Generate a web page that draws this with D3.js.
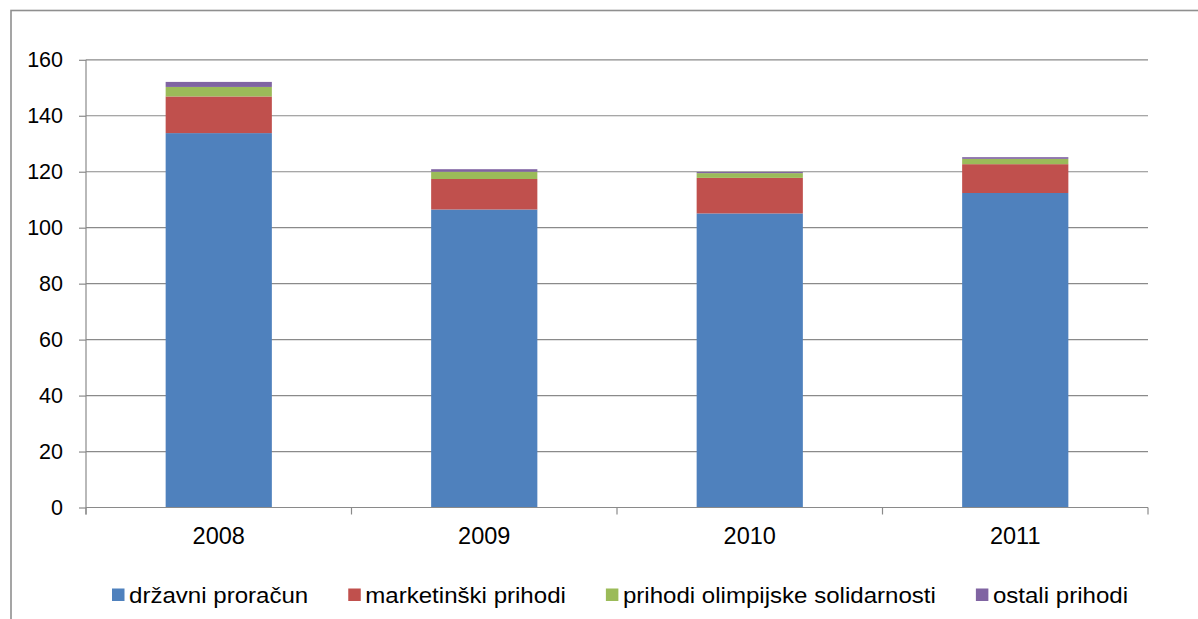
<!DOCTYPE html>
<html>
<head>
<meta charset="utf-8">
<script src="https://cdn.jsdelivr.net/npm/d3@7"></script>
<style>
  body { margin: 0; background: #fff; }
  svg { display: block; font-family: Arial, "Liberation Sans", sans-serif; }
</style>
</head>
<body>
<svg id="chart" width="1198" height="619"></svg>
<script>
// data (mil. kn)
const years = ["2008", "2009", "2010", "2011"];
const seriesNames = ["državni proračun", "marketinški prihodi", "prihodi olimpijske solidarnosti", "ostali prihodi"];
const drzavniProracun = [133.8, 106.5, 105.1, 112.4];
const marketinskiPrihodi = [13.1, 10.9, 12.7, 10.3];
const olimpijskaSolidarnost = [3.4, 2.6, 1.7, 1.9];
const ostaliPrihodi = [1.8, 0.9, 0.4, 0.6];
const yTicks = [0, 20, 40, 60, 80, 100, 120, 140, 160];
const colors = ["#4f81bd", "#c0504d", "#9bbb59", "#8064a2"];

const GRID = "#8a8a8a";
const svg = d3.select("#chart");

// outer chart frame (right and bottom fall outside the picture)
svg.append("rect")
    .attr("x", 11).attr("y", 10.5)
    .attr("width", 1220).attr("height", 640)
    .attr("fill", "none")
    .attr("stroke", "#8f8f8f")
    .attr("stroke-width", 1.6);

const plot = { left: 86, right: 1148, top: 59.8, bottom: 507.5 };

const table = years.map((y, i) => ({
    year: y,
    s0: drzavniProracun[i],
    s1: marketinskiPrihodi[i],
    s2: olimpijskaSolidarnost[i],
    s3: ostaliPrihodi[i]
}));
const stacked = d3.stack().keys(["s0", "s1", "s2", "s3"])(table);

const x = d3.scaleBand()
    .domain(years)
    .range([plot.left, plot.right])
    .paddingInner(0.6)
    .paddingOuter(0.3);

const y = d3.scaleLinear()
    .domain([0, 160])
    .range([plot.bottom, plot.top]);

// gridlines
svg.append("g")
    .selectAll("line")
    .data(yTicks.filter(t => t > 0))
    .enter()
    .append("line")
    .attr("x1", plot.left).attr("x2", plot.right)
    .attr("y1", d => y(d)).attr("y2", d => y(d))
    .attr("stroke", GRID)
    .attr("stroke-width", 1.2);

// bars
svg.append("g")
    .selectAll("g")
    .data(stacked)
    .enter()
    .append("g")
    .attr("fill", (d, i) => colors[i])
    .selectAll("rect")
    .data(d => d)
    .enter()
    .append("rect")
    .attr("x", d => x(d.data.year))
    .attr("width", x.bandwidth())
    .attr("y", d => y(d[1]))
    .attr("height", d => y(d[0]) - y(d[1]));

// y axis
const yAxis = svg.append("g")
    .attr("transform", `translate(${plot.left},0)`)
    .call(d3.axisLeft(y).tickValues(yTicks).tickSize(7).tickPadding(16));
yAxis.select(".domain").attr("stroke", GRID).attr("stroke-width", 1.2)
    .attr("d", `M-0,${plot.top}V${plot.bottom + 7}`);
yAxis.selectAll(".tick line").attr("stroke", GRID).attr("stroke-width", 1.2);
yAxis.selectAll(".tick text")
    .attr("fill", "#000")
    .style("font-size", "21.5px")
    .style("font-family", "Arial, 'Liberation Sans', sans-serif");

// x axis: baseline with ticks between categories
const xAxis = svg.append("g");
xAxis.append("line")
    .attr("x1", plot.left).attr("x2", plot.right)
    .attr("y1", plot.bottom).attr("y2", plot.bottom)
    .attr("stroke", GRID).attr("stroke-width", 1.2);
const step = x.step();
const bounds = d3.range(years.length + 1).map(i => plot.left + i * step);
xAxis.selectAll(".xt")
    .data(bounds)
    .enter()
    .append("line")
    .attr("x1", d => d).attr("x2", d => d)
    .attr("y1", plot.bottom).attr("y2", plot.bottom + 7)
    .attr("stroke", GRID).attr("stroke-width", 1.2);
xAxis.selectAll("text")
    .data(years)
    .enter()
    .append("text")
    .attr("x", d => x(d) + x.bandwidth() / 2)
    .attr("y", 544)
    .attr("text-anchor", "middle")
    .style("font-size", "23.5px")
    .text(d => d);

// legend
const legend = svg.append("g");
let lx = 112;
seriesNames.forEach(function (name, i) {
    const item = legend.append("g").attr("transform", `translate(${lx},0)`);
    item.append("rect")
        .attr("x", 0).attr("y", 588.5)
        .attr("width", 12.5).attr("height", 12.5)
        .attr("fill", colors[i]);
    const t = item.append("text")
        .attr("transform", "translate(17,603) scale(1.12,1)")
        .style("font-size", "21.5px")
        .text(name);
    const w = t.node().getComputedTextLength() * 1.12;
    lx += 17 + w + 40;
});
</script>
</body>
</html>
